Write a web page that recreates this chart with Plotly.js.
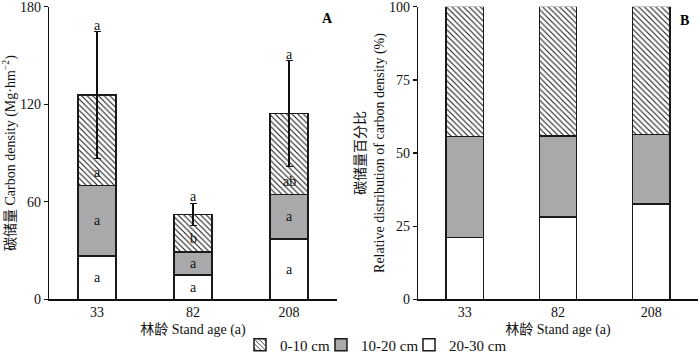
<!DOCTYPE html>
<html>
<head>
<meta charset="utf-8">
<script src="https://cdn.plot.ly/plotly-3.0.1.min.js"></script>
<style>html,body{margin:0;padding:0;background:#fff}#chart{width:700px;height:356px}</style>
</head>
<body>
<div id="chart"></div>
<script>
// ---- data ----
const ages = ['33', '82', '208'];
const depthNames = ['0-10 cm', '10-20 cm', '20-30 cm'];
// Panel A: carbon density (Mg·hm^-2) by soil layer
const densTop = [55.7, 23.2, 49.6];     // 0-10 cm
const densMid = [43.3, 14.3, 27.5];     // 10-20 cm
const densLow = [26.6, 14.8, 37.1];     // 20-30 cm
const densTotalErr = [39, 6.7, 32.5];   // error on total
const lettersTop = ['a', 'b', 'ab'];
const lettersMid = ['a', 'a', 'a'];
const lettersLow = ['a', 'a', 'a'];
const lettersTotal = ['a', 'a', 'a'];
// Panel B: relative distribution (%)
const pctTop = [44.4, 44.2, 43.6];
const pctMid = [34.5, 27.7, 23.8];
const pctLow = [21.1, 28.1, 32.6];
const yTicksA = [0, 60, 120, 180];
const yTicksB = [0, 25, 50, 75, 100];

// ---- style ----
const FONT = 'Liberation Serif, Times New Roman, Noto Sans CJK SC, serif';
const LINE = {color: '#1a1a1a', width: 1.5};
const GRAY = '#a9a8ab';
const hatch = {shape: '\\', fgcolor: '#111', bgcolor: '#fff', size: 4, solidity: 0.25};

function traces(xa, ya, low, mid, top, err, show) {
  return [
    {type: 'bar', x: ages, y: low, name: depthNames[2], xaxis: xa, yaxis: ya, width: 0.4,
     marker: {color: '#fff', line: LINE}, showlegend: show, legend: 'legend3', hoverinfo: 'none'},
    {type: 'bar', x: ages, y: mid, name: depthNames[1], xaxis: xa, yaxis: ya, width: 0.4,
     marker: {color: GRAY, line: LINE}, showlegend: show, legend: 'legend2', hoverinfo: 'none'},
    {type: 'bar', x: ages, y: top, name: depthNames[0], xaxis: xa, yaxis: ya, width: 0.4,
     marker: {color: '#fff', pattern: hatch, line: LINE}, showlegend: show, legend: 'legend', hoverinfo: 'none',
     error_y: err ? {type: 'data', array: err, visible: true, color: '#111', thickness: 1.3, width: 3.5} : undefined}
  ];
}

const data = [
  ...traces('x', 'y', densLow, densMid, densTop, densTotalErr, true),
  ...traces('x2', 'y2', pctLow, pctMid, pctTop, null, false)
];

const ann = [];
const lf = {family: FONT, size: 14, color: '#111'};
ages.forEach((a, i) => {
  const low = densLow[i], mid = densMid[i], top = densTop[i];
  ann.push({x: i, y: low / 2, xref: 'x', yref: 'y', text: lettersLow[i], showarrow: false, font: lf});
  ann.push({x: i, y: low + mid / 2, xref: 'x', yref: 'y', text: lettersMid[i], showarrow: false, font: lf});
  ann.push({x: i, y: low + mid + 8, xref: 'x', yref: 'y', text: lettersTop[i], showarrow: false, font: lf});
  ann.push({x: i, y: low + mid + top + densTotalErr[i], xref: 'x', yref: 'y', text: lettersTotal[i],
            showarrow: false, yanchor: 'bottom', yshift: -3, font: lf});
});
ann.push({x: 327 / 700, y: 1 - 19 / 356, xref: 'paper', yref: 'paper', text: '<b>A</b>', showarrow: false,
          xanchor: 'center', yanchor: 'middle', font: {family: FONT, size: 14, color: '#000'}});
ann.push({x: 684 / 700, y: 1 - 21 / 356, xref: 'paper', yref: 'paper', text: '<b>B</b>', showarrow: false,
          xanchor: 'center', yanchor: 'middle', font: {family: FONT, size: 14, color: '#000'}});

const tickFont = {family: FONT, size: 14, color: '#111'};
const legFont = {family: FONT, size: 15, color: '#111'};
const axX = (domain) => ({domain, range: [-0.5, 2.5], type: 'category', showline: true, linecolor: '#111',
  linewidth: 1.3, ticks: '', tickfont: tickFont, showgrid: false, zeroline: false, fixedrange: true,
  title: {text: '林龄 Stand age (a)', font: {family: FONT, size: 14, color: '#111'}, standoff: 4}});
const axY = (domain, range, ticks, anchor, title, standoff) => ({domain, range, tickvals: ticks, showline: true,
  linecolor: '#111', linewidth: 1.3, ticks: 'outside', ticklen: 4, tickwidth: 1.3, tickcolor: '#111',
  tickfont: tickFont, showgrid: false, zeroline: false, anchor, fixedrange: true, ticklabeloverflow: 'allow',
  title: {text: title, font: {family: FONT, size: 14, color: '#111'}, standoff}});

const yDom = [1 - 299.3 / 356, 1 - 6.7 / 356];
const legY = 1 - 345 / 356;
const layout = {
  width: 700, height: 356,
  margin: {l: 0, r: 0, t: 0, b: 0, autoexpand: false},
  paper_bgcolor: '#fff', plot_bgcolor: '#fff',
  barmode: 'stack',
  font: {family: FONT},
  xaxis: axX([49 / 700, 337 / 700]),
  xaxis2: Object.assign(axX([418 / 700, 698 / 700]), {anchor: 'y2'}),
  yaxis: axY(yDom, [0, 180], yTicksA, 'x', '碳储量 Carbon density (Mg·hm<sup>−2</sup>)', 8),
  yaxis2: axY(yDom, [0, 100], yTicksB, 'x2', '碳储量百分比<br>Relative distribution of carbon density (%)', 1),
  legend:  {x: 240 / 700, y: legY, xanchor: 'left', yanchor: 'middle', font: legFont, bgcolor: 'rgba(0,0,0,0)', itemwidth: 30},
  legend2: {x: 321 / 700, y: legY, xanchor: 'left', yanchor: 'middle', font: legFont, bgcolor: 'rgba(0,0,0,0)', itemwidth: 30},
  legend3: {x: 409 / 700, y: legY, xanchor: 'left', yanchor: 'middle', font: legFont, bgcolor: 'rgba(0,0,0,0)', itemwidth: 30},
  annotations: ann
};

Plotly.newPlot('chart', data, layout, {displayModeBar: false, staticPlot: true});
</script>
</body>
</html>
